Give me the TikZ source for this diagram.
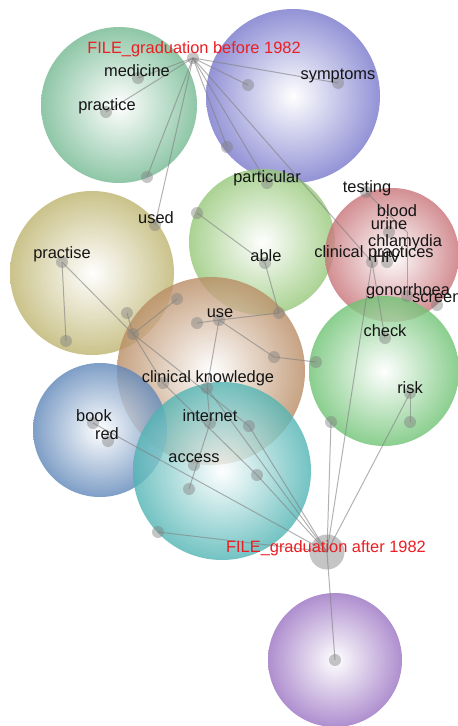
\documentclass[tikz,border=0pt]{standalone}
\usepackage{fontspec}
\setmainfont{Liberation Sans}
\definecolor{cA}{RGB}{115,185,145}
\definecolor{cB}{RGB}{120,120,205}
\definecolor{cC}{RGB}{190,180,110}
\definecolor{cD}{RGB}{150,200,120}
\definecolor{cE}{RGB}{200,115,120}
\definecolor{cF}{RGB}{185,140,100}
\definecolor{cG}{RGB}{110,195,115}
\definecolor{cH}{RGB}{95,135,185}
\definecolor{cI}{RGB}{80,180,180}
\definecolor{cJ}{RGB}{155,115,195}
\definecolor{dotgray}{RGB}{128,128,128}
\definecolor{lblred}{RGB}{235,30,35}
\tikzset{
  bub/.style={inner color=white, outer color=#1, opacity=0.8},
  dot/.style={circle, fill=dotgray, fill opacity=0.45, minimum size=12pt, inner sep=0pt},
  hubdot/.style={dot, minimum size=35pt},
  lbl/.style={font=\fontsize{16.4}{18}\selectfont, text=black!92, inner sep=0pt},
  flbl/.style={lbl, text=lblred},
  edge/.style={draw=dotgray, line width=1pt, opacity=0.6}
}
\begin{document}
\begin{tikzpicture}[x=1pt,y=-1pt]
\useasboundingbox (0,0) rectangle (458,726);
\clip (0,0) rectangle (458,726);
\fill[white] (0,0) rectangle (458,726);
% bubbles
\shade[bub=cA] (119,105) circle (78pt);
\shade[bub=cB] (293,96) circle (87pt);
\shade[bub=cC] (92,273) circle (82pt);
\shade[bub=cD] (262,242) circle (73pt);
\shade[bub=cE] (392,255) circle (67pt);
\shade[bub=cF] (211,371) circle (94pt);
\shade[bub=cG] (384,371) circle (75pt);
\shade[bub=cH] (100,430) circle (67pt);
\shade[bub=cI] (222,471) circle (89pt);
\shade[bub=cJ] (335,660) circle (67pt);
% dots
\node[dot] (hubB) at (193,58) {};
\node[dot] (dMed) at (138,78) {};
\node[dot] (dPrac) at (106,112) {};
\node[dot] (dSym) at (338,83) {};
\node[dot] (dX1) at (248,85) {};
\node[dot] (dX2) at (227,147) {};
\node[dot] (dX3) at (147,177) {};
\node[dot] (dPart) at (267,183) {};
\node[dot] (dUsed) at (155,225) {};
\node[dot] (dX4) at (197,213) {};
\node[dot] (dTest) at (366,192) {};
\node[dot] (dUrine) at (389,232) {};
\coordinate (dChl) at (407,232);
\node[dot] (dCP) at (372,262) {};
\node[dot] (dHIV) at (387,262) {};
\node[dot] (dGon) at (407,296) {};
\node[dot] (dScr) at (437,305) {};
\node[dot] (dPractise) at (62,262) {};
\node[dot] (dX5) at (66,341) {};
\node[dot] (dAble) at (265,263) {};
\node[dot] (dO0) at (127,313) {};
\node[dot] (dB1) at (177,299) {};
\node[dot] (dO1) at (133,334) {};
\node[dot] (dUse) at (219,320) {};
\node[dot] (dX6) at (197,323) {};
\node[dot] (dX7) at (279,313) {};
\node[dot] (dX8) at (274,357) {};
\node[dot] (dX9) at (316,362) {};
\node[dot] (dCheck) at (385,338) {};
\node[dot] (dCK) at (207,388) {};
\node[dot] (dCK2) at (163,383) {};
\node[dot] (dRisk) at (410,393) {};
\node[dot] (dX10) at (410,422) {};
\node[dot] (dX11) at (331,422) {};
\node[dot] (dBook) at (93,423) {};
\node[dot] (dRed) at (108,441) {};
\node[dot] (dInt) at (210,423) {};
\node[dot] (dX12) at (249,426) {};
\node[dot] (dAcc) at (194,465) {};
\node[dot] (dX13) at (257,475) {};
\node[dot] (dX14) at (189,489) {};
\node[dot] (dX15) at (158,532) {};
\node[hubdot] (hubA) at (327,552) {};
\node[dot] (dPur) at (335,660) {};
% edges
\foreach \t in {dMed,dPrac,dSym,dX1,dX2,dX3,dUsed,dPart,dCP}
  \draw[edge] (hubB.center) -- (\t.center);
\foreach \s/\t in {dX4/dAble, dAble/dX7, dUse/dX7, dUse/dX6, dUse/dX8, dX8/dX9, dUse/dCK,
  dTest/dChl, dChl/dGon, dCP/dCheck,
  dPractise/dX5, dPractise/dO1, dO0/dO1, dB1/dO1, dO1/dCK2, dO1/dX12,
  dCK2/dX13, dX13/hubA, dX12/hubA, dCK/hubA, dCK/dInt, dInt/dX14,
  dBook/hubA, dX15/hubA, dX11/hubA, dCP/hubA, dRisk/hubA, dRisk/dX10, hubA/dPur}
  \draw[edge] (\s.center) -- (\t.center);
% labels
\node[flbl] (lB) at (194,49) {FILE\_graduation before 1982};
\node[lbl] (lMed) at (137,71) {medicine};
\node[lbl] (lPrac) at (107,106) {practice};
\node[lbl] (lSym) at (338,76) {symptoms};
\node[lbl] (lPart) at (267,178) {particular};
\node[lbl] (lUsed) at (156,218) {used};
\node[lbl] (lTest) at (367,188) {testing};
\node[lbl] (lBlood) at (397,211) {blood};
\node[lbl] (lUrine) at (389,224) {urine};
\node[lbl] (lChl) at (405,242) {chlamydia};
\node[lbl] (lCP) at (374,253) {clinical practices};
\node[lbl] (lHIV) at (387,257) {HIV};
\node[lbl] (lGon) at (408,291) {gonorrhoea};
\node[lbl, anchor=west] (lScr) at (412,298) {screen};
\node[lbl] (lPractise) at (62,254) {practise};
\node[lbl] (lAble) at (266,256) {able};
\node[lbl] (lUse) at (220,313) {use};
\node[lbl] (lCheck) at (385,331) {check};
\node[lbl] (lCK) at (208,378) {clinical knowledge};
\node[lbl] (lRisk) at (410,388) {risk};
\node[lbl] (lBook) at (94,416) {book};
\node[lbl] (lRed) at (107,434) {red};
\node[lbl] (lInt) at (210,416) {internet};
\node[lbl] (lAcc) at (194,458) {access};
\node[flbl] (lA) at (326,548) {FILE\_graduation after 1982};
\end{tikzpicture}
\end{document}
